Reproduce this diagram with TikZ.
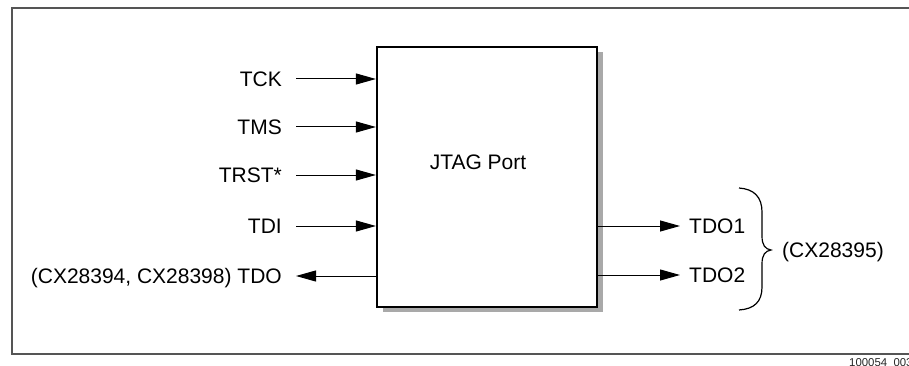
\documentclass[tikz,border=0pt]{standalone}
\usepackage{fontspec}
\setmainfont{Liberation Sans}
\usepackage{tikz}
\usetikzlibrary{arrows.meta,positioning,calc,shadows}
\definecolor{cFrame}{HTML}{555555}
\definecolor{cShadow}{HTML}{A9A9A9}
\tikzset{
  pinlab/.style={font=\fontsize{21}{24}\selectfont,text height=15pt,text depth=0pt,
      inner ysep=0pt},
  pinarr/.style={-{Triangle[length=20pt,width=11pt]},line width=1pt,draw=black},
  portbox/.style={draw=black,line width=2.2pt,fill=white,minimum width=220pt,
      minimum height=260pt,inner sep=0pt,
      drop shadow={shadow xshift=6pt,shadow yshift=-5pt,fill=cShadow,opacity=1}},
  framebox/.style={draw=cFrame,line width=1.3pt},
  tagtxt/.style={font=\fontsize{11.4}{13}\selectfont,inner sep=0pt,text=black!85},
}
\newcommand{\pinin}[3]{%
  \node[pinlab,anchor=east,inner xsep=14pt] (#1) at (296,#2) {#3};
  \draw[pinarr] (#1.east) -- (#1.east -| port.west);}
\newcommand{\pinback}[3]{%
  \node[pinlab,anchor=east,inner xsep=14pt] (#1) at (296,#2) {#3};
  \draw[pinarr] (#1.east -| port.west) -- (#1.east);}
\newcommand{\pinout}[3]{%
  \node[pinlab,anchor=west,inner xsep=9pt] (#1) at (680,#2) {#3};
  \draw[pinarr] (#1.west -| port.east) -- (#1.west);}

\begin{document}
\begin{tikzpicture}[x=1pt,y=-1pt]
  \clip (0,0) rectangle (909,366);
  \draw[framebox] (12,8) rectangle (960,354);
  \node[tagtxt,anchor=base west] (fig) at (849,366) {100054\ \ 003};

  \node[portbox] (port) at (487,177) {};
  \node[pinlab,font=\fontsize{21}{24}\selectfont] (portname)
    at ([xshift=-9pt,yshift=15pt]port.center) {JTAG Port};

  \pinin{tck}{79}{TCK}
  \pinin{tms}{127}{TMS}
  \pinin{trst}{175}{TRST*}
  \pinin{tdi}{226}{TDI}
  \pinback{tdo}{276}{(CX28394, CX28398) TDO}

  \pinout{tdoa}{226}{TDO1}
  \pinout{tdob}{275}{TDO2}

  % brace over TDO1/TDO2
  \draw[line width=1.2pt] (739,188) .. controls (754,189) and (762,197) .. (762,212)
    -- (762,236) .. controls (762,245) and (765,249) .. (771,250)
    .. controls (765,251) and (762,255) .. (762,264) -- (762,287)
    .. controls (762,302) and (754,309) .. (739,310);
  \node[pinlab,anchor=west,inner xsep=0pt] (part) at (782,250) {(CX28395)};
\end{tikzpicture}
\end{document}
